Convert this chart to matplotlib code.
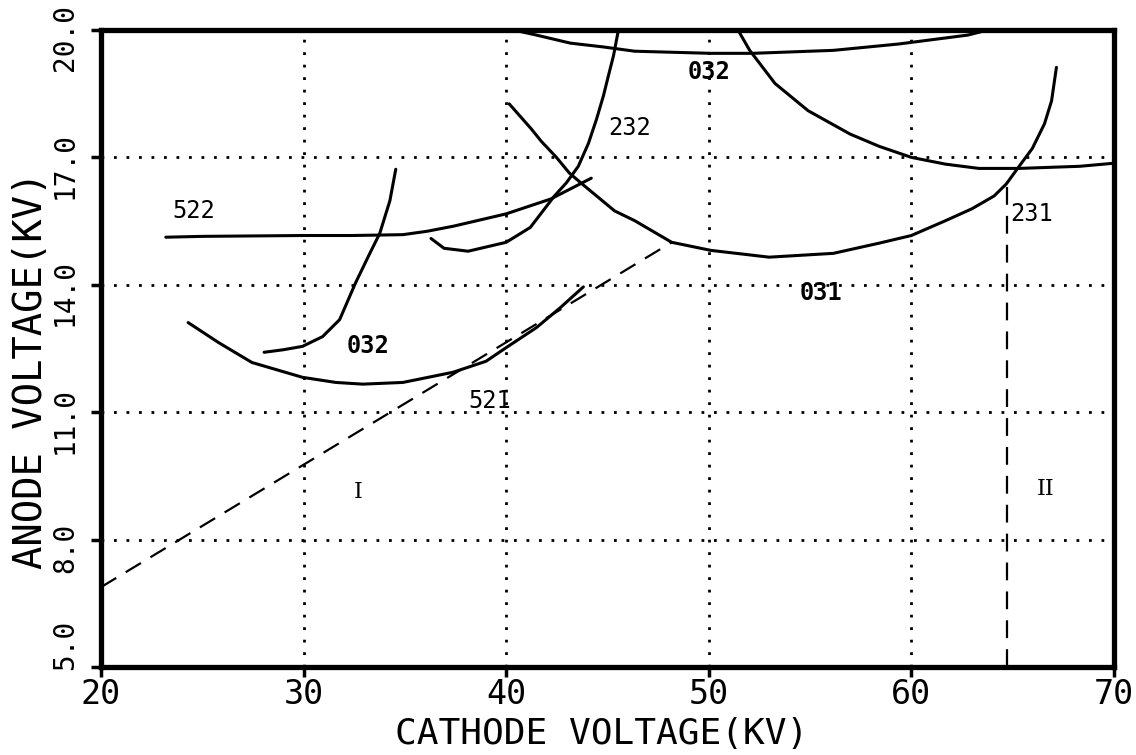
import matplotlib
matplotlib.use("Agg")
import matplotlib.pyplot as plt
from matplotlib.transforms import ScaledTranslation

# ---------------- data ----------------
x_ticks = [20, 30, 40, 50, 60, 70]
x_tick_labels = ["20", "30", "40", "50", "60", "70"]
y_ticks = [5, 8, 11, 14, 17, 20]
y_tick_labels = ["5.0", "8.0", "11.0", "14.0", "17.0", "20.0"]

# curve 522
x_522 = [23.2, 25.0, 27.5, 30.0, 32.4, 34.9, 36.1, 37.4, 40.0, 42.2, 44.2]
y_522 = [15.12, 15.14, 15.15, 15.16, 15.16, 15.18, 15.26, 15.38, 15.67, 16.02, 16.51]

# curve 032 (lower, steep)
x_032a = [28.05, 29.0, 29.95, 30.94, 31.78, 32.57, 33.27, 33.76, 34.26, 34.55]
y_032a = [12.41, 12.47, 12.55, 12.78, 13.18, 14.05, 14.74, 15.21, 15.98, 16.72]

# curve 521
x_521 = [24.3, 25.8, 27.45, 29.95, 31.59, 32.92, 34.9, 37.38, 39.01, 40.0, 41.49, 42.67, 43.81]
y_521 = [13.11, 12.64, 12.17, 11.82, 11.70, 11.66, 11.70, 11.94, 12.20, 12.52, 12.99, 13.46, 13.95]

# curve 232
x_232 = [36.29, 36.93, 38.12, 40.0, 41.19, 42.38, 42.97, 43.56, 44.06, 44.46,
         44.80, 45.05, 45.30, 45.54]
y_232 = [15.09, 14.86, 14.79, 15.0, 15.35, 16.09, 16.40, 16.79, 17.33, 17.90,
         18.45, 18.93, 19.40, 20.0]

# curve 031
x_031 = [40.15, 41.24, 41.73, 42.48, 43.12, 43.81, 45.35, 46.34, 48.17, 50.1, 52.98,
         56.15, 58.41, 60.0, 61.69, 62.99, 64.08, 64.68, 65.32, 65.97, 66.57, 66.92, 67.16]
y_031 = [18.26, 17.67, 17.38, 17.0, 16.63, 16.35, 15.74, 15.51, 15.0, 14.81, 14.65,
         14.74, 14.98, 15.16, 15.51, 15.79, 16.09, 16.37, 16.79, 17.21, 17.79, 18.33, 19.12]

# curve 032 (top)
x_032b = [40.35, 41.49, 43.17, 44.80, 46.34, 50.1, 52.16, 56.15, 59.38, 62.79, 63.78]
y_032b = [20.0, 19.88, 19.69, 19.60, 19.50, 19.45, 19.45, 19.52, 19.67, 19.88, 20.0]

# curve 231
x_231 = [51.44, 52.02, 53.27, 54.9, 56.97, 58.41, 60.0, 61.69, 63.33, 65.32, 68.31, 69.95]
y_231 = [20.0, 19.52, 18.74, 18.10, 17.55, 17.26, 17.0, 16.84, 16.74, 16.74, 16.79, 16.86]

# region boundaries (dashed)
x_bound_I = [20.0, 48.17]
y_bound_I = [6.88, 15.0]
x_bound_II = [64.73, 64.73]
y_bound_II = [5.0, 16.37]

# labels
curve_labels = ["522", "032", "521", "232", "032", "031", "231"]
label_x = [24.6, 33.2, 39.2, 46.1, 50.0, 55.55, 65.95]
label_y = [15.74, 12.55, 11.26, 17.69, 19.0, 13.81, 15.67]
label_bold = [False, True, False, False, True, True, False]
region_labels = ["I", "II"]
region_x = [32.7, 66.62]
region_y = [9.12, 9.2]

# ---------------- drawing ----------------
MONO = "DejaVu Sans Mono"
fig = plt.figure(figsize=(11.36, 7.55), dpi=100)
ax = fig.add_axes([0.0889, 0.1166, 0.8917, 0.8437])

ax.set_xlim(20, 70)
ax.set_ylim(5, 20)
ax.set_xticks(x_ticks)
ax.set_xticklabels(x_tick_labels, fontfamily=MONO, fontsize=24)
ax.set_yticks(y_ticks)
ax.set_yticklabels(y_tick_labels, fontfamily=MONO, fontsize=20, rotation=90,
                   va="center")
ax.tick_params(axis="both", direction="out", length=7, width=2.5, color="k")
ax.tick_params(axis="x", pad=1)
ax.tick_params(axis="y", pad=9)
for lab in ax.get_yticklabels():
    dy = 22 if lab.get_text() == "5.0" else -8
    lab.set_transform(lab.get_transform()
                      + ScaledTranslation(0, dy / 100, fig.dpi_scale_trans))

for s in ax.spines.values():
    s.set_linewidth(3.8)
    s.set_color("k")

ax.grid(True, which="major", color="k", linestyle=(0, (1, 3.5)), linewidth=2)
ax.set_axisbelow(True)

curve_kw = dict(color="k", linewidth=2.2, solid_capstyle="round",
                solid_joinstyle="round", zorder=3)
for xs, ys in [(x_522, y_522), (x_032a, y_032a), (x_521, y_521), (x_232, y_232),
               (x_031, y_031), (x_032b, y_032b), (x_231, y_231)]:
    ax.plot(xs, ys, **curve_kw)

dash_kw = dict(color="k", linewidth=1.6, dashes=(8, 5), zorder=3)
ax.plot(x_bound_I, y_bound_I, **dash_kw)
ax.plot(x_bound_II, y_bound_II, **dash_kw)

for t, lx, ly, b in zip(curve_labels, label_x, label_y, label_bold):
    ax.text(lx, ly, t, fontfamily=MONO, fontsize=17,
            fontweight="bold" if b else "normal",
            ha="center", va="center", zorder=4)
for t, lx, ly in zip(region_labels, region_x, region_y):
    ax.text(lx, ly, t, fontfamily="DejaVu Serif", fontsize=16,
            ha="center", va="center", zorder=4)

ax.set_xlabel("CATHODE VOLTAGE(KV)", fontfamily=MONO, fontsize=26)
ax.set_ylabel("ANODE VOLTAGE(KV)", fontfamily=MONO, fontsize=28)
ax.xaxis.set_label_coords(0.494, -0.079)
ax.yaxis.set_label_coords(-0.050, 0.465)

fig.savefig("out.png", dpi=100, facecolor="white")
